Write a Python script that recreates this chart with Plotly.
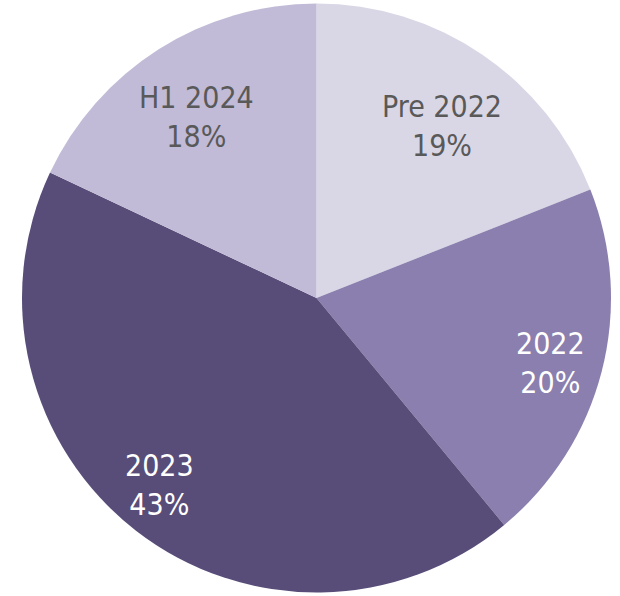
import math
import plotly.graph_objects as go

# Share of items by period
periods = ["Pre 2022", "2022", "2023", "H1 2024"]
shares = [19, 20, 43, 18]
slice_colors = ["#d9d7e6", "#8a7fae", "#584c78", "#c2bbd7"]
label_colors = ["#595959", "#ffffff", "#ffffff", "#595959"]

# Label placement: fraction of the radius and a small angular nudge (degrees)
label_radius = [0.72, 0.825, 0.826, 0.734]
label_nudge = [2.0, 1.0, 2.4, -1.4]

fig = go.Figure(
    go.Pie(
        labels=periods,
        values=shares,
        sort=False,
        direction="clockwise",
        rotation=0,
        marker=dict(colors=slice_colors, line=dict(width=0)),
        textinfo="none",
        hoverinfo="label+percent",
        showlegend=False,
    )
)

# Pie fills the plot area: centre (0.5, 0.5), radius 0.5 in paper units
total = sum(shares)
cum = 0
for name, val, col, rf, nudge in zip(periods, shares, label_colors, label_radius, label_nudge):
    mid = (cum + val / 2) / total * 360 + nudge
    cum += val
    a = math.radians(mid)
    fig.add_annotation(
        x=0.5 + 0.5 * rf * math.sin(a),
        y=0.5 + 0.5 * rf * math.cos(a),
        xref="paper",
        yref="paper",
        text=f"{name}<br>{val}%",
        showarrow=False,
        xanchor="center",
        yanchor="middle",
        align="center",
        font=dict(color=col, size=30, family="DejaVu Sans Condensed, DejaVu Sans"),
    )

fig.update_layout(
    width=620,
    height=596,
    margin=dict(l=22, r=9, t=2, b=2),
    paper_bgcolor="white",
    plot_bgcolor="white",
)

fig.write_html("out.html")
